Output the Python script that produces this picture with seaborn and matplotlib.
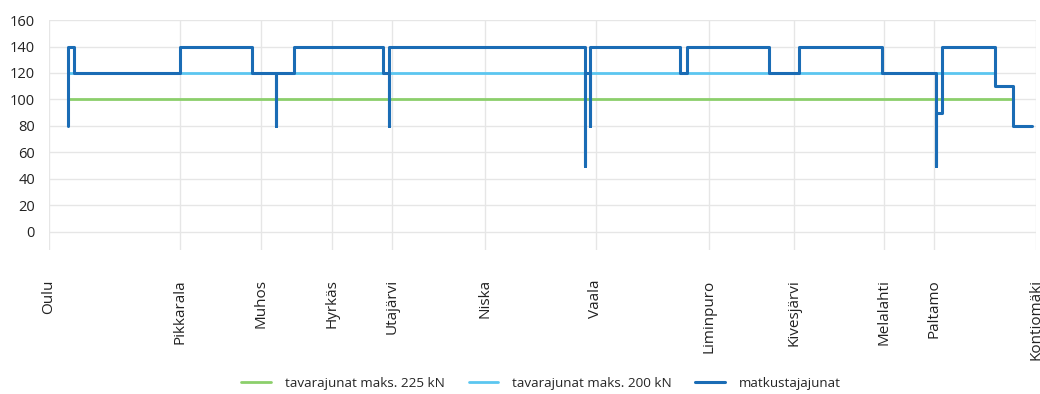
import numpy as np
import pandas as pd
import seaborn as sns
import matplotlib.pyplot as plt

# Stations along the line (approx. km from Oulu)
stations = ['Oulu', 'Pikkarala', 'Muhos', 'Hyrkäs', 'Utajärvi', 'Niska', 'Vaala',
            'Liminpuro', 'Kivesjärvi', 'Melalahti', 'Paltamo', 'Kontiomäki']
station_km = [0, 25.6, 41.4, 55.3, 67.1, 85.3, 106.9, 129.1, 145.7, 163.3, 173.1, 193.0]

# Freight trains, max 225 kN
freight225_km = [3.7, 188.2]
freight225_speed = [100, 100]

# Freight trains, max 200 kN
freight200_km = [3.7, 185.1]
freight200_speed = [120, 120]

# Passenger trains (step profile, with short restrictions)
passenger_km = [3.7, 3.7, 4.9, 4.9, 25.6, 25.6, 39.8, 39.8, 44.4, 44.4, 44.4, 47.9, 47.9,
                65.4, 65.4, 66.5, 66.5, 66.5, 104.9, 104.9, 104.9, 105.9, 105.9, 105.9,
                123.4, 123.4, 124.7, 124.7, 140.8, 140.8, 146.7, 146.7, 162.9, 162.9,
                173.4, 173.4, 173.4, 174.6, 174.6, 185.1, 185.1, 188.6, 188.6, 192.3]
passenger_speed = [80, 140, 140, 120, 120, 140, 140, 120, 120, 80, 120, 120, 140,
                   140, 120, 120, 80, 140, 140, 50, 120, 120, 80, 140,
                   140, 120, 120, 140, 140, 120, 120, 140, 140, 120,
                   120, 50, 90, 90, 140, 140, 110, 110, 80, 80]

series = [
    ('tavarajunat maks. 225 kN', freight225_km, freight225_speed, '#8ccf6b', 2.0),
    ('tavarajunat maks. 200 kN', freight200_km, freight200_speed, '#5bc6f0', 2.0),
    ('matkustajajunat', passenger_km, passenger_speed, '#1a6cb5', 2.2),
]

sns.set_theme(style='whitegrid')
plt.rcParams['font.family'] = ['Open Sans', 'DejaVu Sans']

fig = plt.figure(figsize=(10.4, 3.94), dpi=100)
ax = fig.add_axes([0.047, 0.365, 0.949, 0.584])

for name, xs, ys, color, lw in series:
    df = pd.DataFrame({'km': xs, 'speed': ys})
    sns.lineplot(data=df, x='km', y='speed', sort=False, estimator=None,
                 color=color, linewidth=lw, label=name, ax=ax)

ax.set_xlim(station_km[0], station_km[-1])
ax.set_ylim(-14, 160)
ax.set_yticks(np.arange(0, 161, 20))
ax.set_xticks(station_km)
ax.set_xticklabels(stations, rotation=90, fontsize=11, color='#222222')
ax.tick_params(axis='x', length=0, pad=21)
ax.tick_params(axis='y', length=0, pad=10, labelsize=10.5, labelcolor='#222222')
ax.grid(True, color='#e6e6e6', linewidth=1.0)
for s in ax.spines.values():
    s.set_visible(False)
ax.set_xlabel('')
ax.set_ylabel('')

handles, labels = ax.get_legend_handles_labels()
ax.get_legend().remove()
fig.legend(handles, labels, loc='center', bbox_to_anchor=(541 / 1040, 1 - 383 / 394),
           ncol=3, frameon=False, fontsize=9.7, handlelength=2.2, columnspacing=1.8,
           handletextpad=1.0)

fig.savefig('out.png', dpi=100, facecolor='white')
